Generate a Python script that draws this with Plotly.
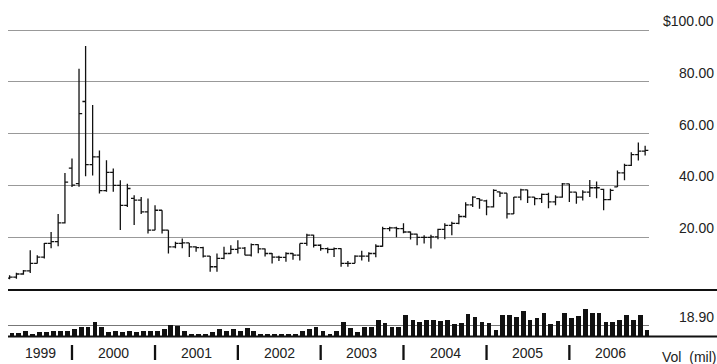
import plotly.graph_objects as go
import pandas as pd

# ---------------- data ----------------
months = pd.date_range("1999-04-01", "2006-12-01", freq="MS")

open_ = [4.2, 4.6, 5.8, 7.0, 9.9, 12.3, 17.6, 18.3, 25.5,
         46.7, 40.7, 72.4, 48.0, 51.0, 38.0, 45.0, 40.0, 32.3, 35.0, 34.3, 29.8,
         22.7, 30.4, 22.7, 16.3, 17.6, 17.8, 16.3, 16.0, 12.7, 8.6, 11.8, 13.7,
         15.3, 15.8, 13.1, 17.1, 15.5, 13.7, 12.3, 12.2, 13.7, 13.1, 17.6, 20.8,
         16.9, 15.6, 15.3, 15.6, 9.9, 9.9, 12.7, 12.7, 13.7, 16.5, 23.3, 23.6,
         23.3, 22.0, 21.2, 19.9, 19.9, 20.1, 23.0, 24.6, 25.3, 28.0, 32.5, 34.9,
         34.0, 31.7, 37.5, 37.0, 29.0, 35.5, 38.3, 35.5, 34.9, 36.5, 33.6, 35.5,
         40.6, 37.4, 35.5, 37.4, 39.1, 38.5, 34.5, 39.4, 44.8, 47.7, 51.9, 53.2]
high = [5.3, 6.3, 7.3, 15.0, 13.0, 17.8, 22.0, 29.0, 44.8,
        50.4, 85.0, 93.8, 71.0, 53.5, 49.7, 46.5, 42.0, 40.6, 36.2, 35.5, 34.9,
        32.3, 30.4, 22.7, 18.2, 19.5, 17.8, 16.5, 16.3, 12.7, 13.7, 16.3, 16.9,
        18.8, 16.2, 17.6, 17.3, 15.6, 13.9, 12.8, 14.2, 13.9, 17.6, 21.3, 20.9,
        17.3, 16.0, 16.0, 15.7, 10.8, 13.0, 14.8, 14.2, 17.3, 24.0, 24.0, 24.0,
        25.4, 22.2, 21.3, 20.8, 20.9, 23.3, 25.4, 26.0, 29.0, 33.5, 35.8, 35.0,
        34.5, 38.5, 37.6, 37.0, 35.5, 38.7, 38.3, 35.5, 36.9, 37.2, 36.2, 40.9,
        40.6, 37.4, 38.1, 42.1, 41.5, 38.7, 38.7, 45.8, 48.4, 52.8, 56.6, 55.3]
low = [3.8, 4.0, 5.5, 6.2, 9.8, 11.8, 15.7, 16.5, 25.3,
       39.4, 39.5, 43.5, 43.8, 36.9, 37.5, 37.5, 22.8, 31.7, 24.7, 29.0, 21.4,
       22.7, 21.4, 13.7, 15.7, 15.7, 12.4, 14.4, 12.2, 6.7, 6.7, 11.5, 13.5,
       13.7, 13.0, 12.5, 13.8, 12.5, 9.8, 10.8, 10.5, 11.3, 11.0, 16.7, 16.0,
       14.8, 13.8, 12.4, 8.6, 8.6, 9.9, 11.0, 10.5, 12.3, 16.3, 22.3, 20.0,
       21.5, 19.1, 16.9, 17.6, 15.6, 19.2, 19.2, 20.8, 25.0, 27.5, 31.7, 31.0,
       28.5, 31.5, 35.5, 27.2, 29.0, 34.3, 33.2, 32.3, 33.2, 31.2, 32.3, 35.2,
       33.6, 32.9, 34.2, 35.5, 35.0, 30.4, 34.3, 39.4, 42.0, 47.5, 49.6, 51.5]
close = [4.6, 5.8, 7.0, 9.9, 12.3, 17.6, 18.3, 25.5, 41.3,
         40.1, 67.7, 48.0, 51.0, 38.0, 45.0, 40.0, 32.3, 38.8, 34.3, 29.8, 22.7,
         30.4, 22.7, 16.3, 17.6, 17.8, 16.3, 16.0, 12.7, 8.6, 11.8, 13.7, 15.3,
         15.8, 13.1, 17.1, 15.5, 13.7, 12.3, 12.2, 13.7, 13.1, 17.6, 20.8, 16.9,
         15.6, 15.3, 15.6, 9.9, 9.9, 12.7, 12.7, 13.7, 16.5, 23.3, 23.6, 23.3,
         22.0, 21.2, 19.9, 19.9, 20.1, 23.0, 24.6, 25.3, 28.0, 32.5, 35.5, 34.3,
         31.7, 38.1, 37.0, 29.0, 35.5, 38.3, 35.5, 34.9, 36.5, 33.6, 35.5, 40.6,
         37.4, 35.5, 37.4, 39.1, 39.1, 34.5, 38.1, 44.8, 47.7, 51.9, 53.2, 53.5]
volume = [7, 7, 11, 4.5, 8.5, 8.5, 10, 10, 11,
          14, 18, 18, 26, 17, 8.5, 10, 8.5, 11, 8.5, 10, 10,
          11, 14, 20, 19, 11, 6, 5, 6, 9, 14, 10, 14,
          10, 16, 11, 6, 5, 6, 5, 6, 5, 10, 14, 18,
          10, 6, 11, 26, 16, 9, 17, 17, 28.6, 24, 17, 17,
          38, 28.6, 25.7, 29.7, 28.6, 27.4, 29.7, 22.9, 24, 40, 35.4, 25.7,
          24, 12.6, 38, 38, 34, 45.7, 28.6, 33, 41, 22.9, 27.4, 41,
          33, 36.6, 48, 41, 41, 25.7, 25.7, 29.7, 38, 28.6, 38, 11.4]

price_ticks = [20, 40, 60, 80, 100]
price_labels = ["20.00", "40.00", "60.00", "80.00", "$100.00"]
vol_tick = 18.90
vol_label = "18.90"
years = [1999, 2000, 2001, 2002, 2003, 2004, 2005, 2006]

# ---------------- layout helpers ----------------
W, H = 717, 364
ML, MR = 8, 68
PW = W - ML - MR


def fy(px):  # pixel row -> paper fraction (margins t=b=0)
    return 1 - px / H


def fx(px):  # pixel column -> paper fraction of plot area
    return (px - ML) / PW


FONT = dict(family="Liberation Sans, Arial, sans-serif", size=14, color="#222")
DAY = 86400000

fig = go.Figure()
fig.add_trace(go.Ohlc(
    x=months, open=open_, high=high, low=low, close=close,
    increasing=dict(line=dict(color="#111", width=1.3)),
    decreasing=dict(line=dict(color="#111", width=1.3)),
    tickwidth=0.5, showlegend=False, hoverinfo="skip",
))
fig.add_trace(go.Bar(
    x=months, y=volume, yaxis="y2", width=21 * DAY, offset=0,
    marker=dict(color="#111", line=dict(width=0)), showlegend=False, hoverinfo="skip",
))

shapes = [
    dict(type="line", xref="paper", yref="paper", x0=0, x1=fx(717), y0=fy(290), y1=fy(290),
         line=dict(color="#111", width=2)),
    dict(type="line", xref="paper", yref="paper", x0=0, x1=fx(717), y0=fy(336.5), y1=fy(336.5),
         line=dict(color="#111", width=2)),
]
for y in years[1:]:
    d = pd.Timestamp(f"{y}-01-01")
    shapes.append(dict(type="line", xref="x", yref="paper", x0=d, x1=d,
                       y0=fy(345), y1=fy(360), line=dict(color="#111", width=2.3)))

annotations = []
for v, t in zip(price_ticks, price_labels):
    annotations.append(dict(xref="paper", yref="y", x=fx(716), y=v, text=t, showarrow=False,
                            xanchor="right", yanchor="middle", yshift=9, font=FONT))
annotations.append(dict(xref="paper", yref="y2", x=fx(716), y=vol_tick, text=vol_label,
                        showarrow=False, xanchor="right", yanchor="middle", yshift=9, font=FONT))
annotations.append(dict(xref="paper", yref="paper", x=fx(718), y=fy(357), text="Vol  (mil)",
                        showarrow=False, xanchor="right", yanchor="middle", font=FONT))
centers = [months[0] + (pd.Timestamp("2000-01-01") - months[0]) / 2] + \
          [pd.Timestamp(f"{y}-07-02") for y in years[1:]]
for c, y in zip(centers, years):
    annotations.append(dict(xref="x", yref="paper", x=c, y=fy(353), text=str(y),
                            showarrow=False, xanchor="center", yanchor="middle", font=FONT))

fig.update_layout(
    width=W, height=H, margin=dict(l=ML, r=MR, t=0, b=0),
    paper_bgcolor="white", plot_bgcolor="white",
    xaxis=dict(type="date", range=["1999-03-25", "2006-12-18"], anchor="y2",
               showgrid=False, showticklabels=False, ticks="", showline=False,
               zeroline=False, rangeslider=dict(visible=False)),
    yaxis=dict(domain=[fy(289), fy(28.7)], range=[0, 100.5], tickvals=price_ticks,
               showticklabels=False, showgrid=True, gridcolor="#999", gridwidth=1,
               zeroline=False, ticks=""),
    yaxis2=dict(domain=[fy(336.7), fy(307.6)], range=[0, 50], tickvals=[vol_tick],
                showticklabels=False, showgrid=True, gridcolor="#777", gridwidth=1,
                zeroline=False, ticks=""),
    shapes=shapes, annotations=annotations, bargap=0,
)

fig.write_html("out.html", config={"displayModeBar": False},
               post_script="document.body.style.margin='0px';document.body.style.overflow='hidden';")
